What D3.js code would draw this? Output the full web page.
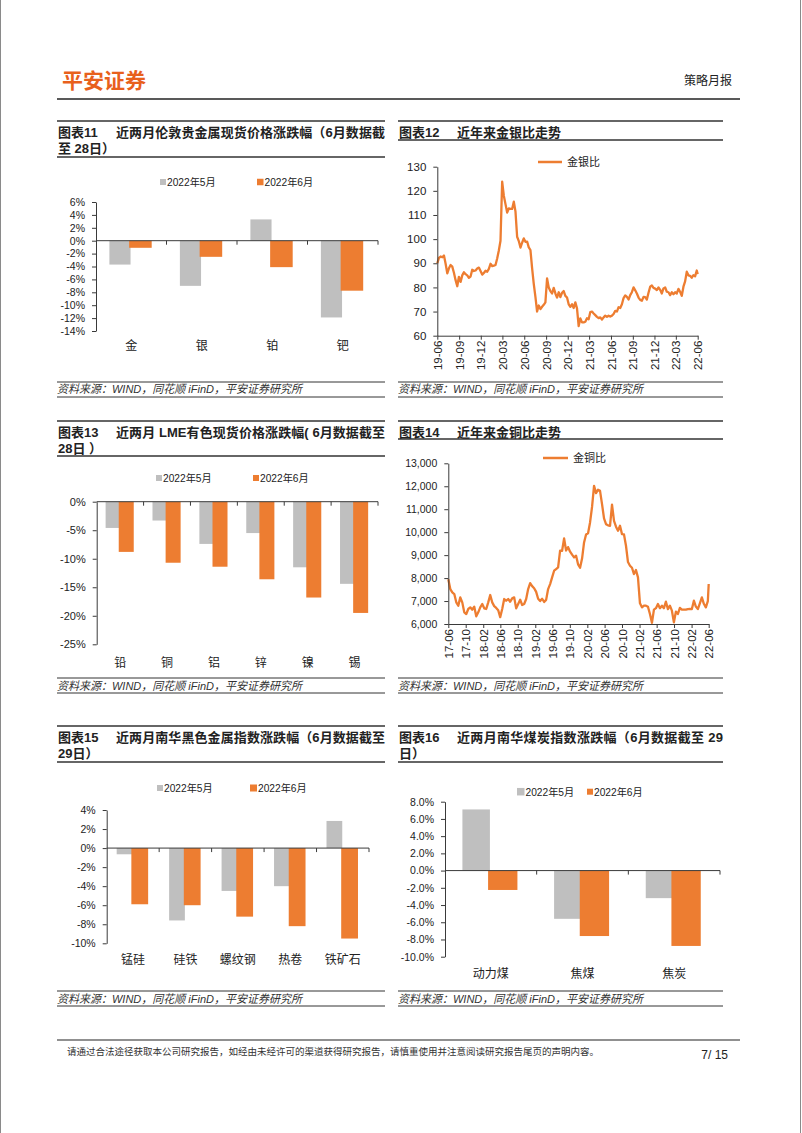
<!DOCTYPE html>
<html><head><meta charset="utf-8">
<script src="https://cdn.jsdelivr.net/npm/d3@7"></script>
<style>body{margin:0;background:#fff}svg{display:block}</style>
</head><body>
<svg id="c" width="802" height="1133"></svg>
<script>
// ---------------- DATA ----------------
const seriesNames = ["2022年5月", "2022年6月"];

const preciousCats = ["金", "银", "铂", "钯"];
const preciousMay = [-3.7, -7.0, 3.3, -11.9];
const preciousJun = [-1.1, -2.5, -4.1, -7.75];
const preciousTicks = [6, 4, 2, 0, -2, -4, -6, -8, -10, -12, -14];

const lmeCats = ["铅", "铜", "铝", "锌", "镍", "锡"];
const lmeMay = [-4.6, -3.3, -7.4, -5.5, -11.5, -14.4];
const lmeJun = [-8.8, -10.7, -11.4, -13.6, -16.8, -19.5];
const lmeTicks = [0, -5, -10, -15, -20, -25];

const ferrousCats = ["锰硅", "硅铁", "螺纹钢", "热卷", "铁矿石"];
const ferrousMay = [-0.65, -7.6, -4.5, -4.0, 2.85];
const ferrousJun = [-5.9, -6.0, -7.2, -8.2, -9.5];
const ferrousTicks = [4, 2, 0, -2, -4, -6, -8, -10];

const coalCats = ["动力煤", "焦煤", "焦炭"];
const coalMay = [7.1, -5.6, -3.2];
const coalJun = [-2.25, -7.6, -8.75];
const coalTicks = [8, 6, 4, 2, 0, -2, -4, -6, -8, -10];

const goldSilverDates = ("2019-06-28 2019-07-05 2019-07-12 2019-07-19 2019-07-26 2019-08-02 2019-08-09 2019-08-16 2019-08-23 2019-08-30 2019-09-06 2019-09-13 2019-09-20 2019-09-27 2019-10-04 2019-10-11 2019-10-18 2019-10-25 2019-11-01 2019-11-08 2019-11-15 2019-11-22 2019-11-29 2019-12-06 2019-12-13 2019-12-20 2019-12-27 " +
 "2020-01-03 2020-01-10 2020-01-17 2020-01-24 2020-01-31 2020-02-07 2020-02-14 2020-02-21 2020-02-28 2020-03-06 2020-03-13 2020-03-20 2020-03-27 2020-04-03 2020-04-10 2020-04-17 2020-04-24 2020-05-01 2020-05-08 2020-05-15 2020-05-22 2020-05-29 2020-06-05 2020-06-12 2020-06-19 2020-06-26 2020-07-03 2020-07-10 2020-07-17 2020-07-24 2020-07-31 2020-08-07 2020-08-14 2020-08-21 2020-08-28 2020-09-04 2020-09-11 2020-09-18 2020-09-25 2020-10-02 2020-10-09 2020-10-16 2020-10-23 2020-10-30 2020-11-06 2020-11-13 2020-11-20 2020-11-27 2020-12-04 2020-12-11 2020-12-18 2020-12-25 " +
 "2021-01-01 2021-01-08 2021-01-15 2021-01-22 2021-01-29 2021-02-05 2021-02-12 2021-02-19 2021-02-26 2021-03-05 2021-03-12 2021-03-19 2021-03-26 2021-04-02 2021-04-09 2021-04-16 2021-04-23 2021-04-30 2021-05-07 2021-05-14 2021-05-21 2021-05-28 2021-06-04 2021-06-11 2021-06-18 2021-06-25 2021-07-02 2021-07-09 2021-07-16 2021-07-23 2021-07-30 2021-08-06 2021-08-13 2021-08-20 2021-08-27 2021-09-03 2021-09-10 2021-09-17 2021-09-24 2021-10-01 2021-10-08 2021-10-15 2021-10-22 2021-10-29 2021-11-05 2021-11-12 2021-11-19 2021-11-26 2021-12-03 2021-12-10 2021-12-17 2021-12-24 2021-12-31 " +
 "2022-01-07 2022-01-14 2022-01-21 2022-01-28 2022-02-04 2022-02-11 2022-02-18 2022-02-25 2022-03-04 2022-03-11 2022-03-18 2022-03-25 2022-04-01 2022-04-08 2022-04-15 2022-04-22 2022-04-29 2022-05-06 2022-05-13 2022-05-20 2022-05-27 2022-06-03 2022-06-10 2022-06-17 2022-06-24 2022-06-28").split(" ");
const goldSilverValues = [
 90, 92.2, 92.8, 92.5, 93.2, 89.8, 85.8, 87.9, 89.3, 88.6, 86.1, 83, 80.5, 84.4, 82.3, 85, 86.3, 85.5, 85, 84, 84.5, 87.3, 86.8, 87, 87.8, 88.2, 86.8,
 85.3, 86, 86.9, 86.5, 87.7, 89.8, 88.8, 89, 89.3, 92, 95.3, 99.3, 123.8, 118, 114.5, 111, 112.7, 112.5, 112.5, 115.5, 111.5, 101, 99.2, 96.5, 98.5, 100.3, 98.9, 99, 96.6, 95.5, 88, 81.5, 76.1, 70, 72.5, 71, 72, 72.8, 73.8, 83.7, 80, 78.5, 77.5, 79.8, 77.5, 75.8, 78, 76, 77.8, 78.5, 76.5, 75.8,
 73, 72, 73, 71.5, 73.8, 71.3, 64, 67.2, 65.5, 65.5, 65.8, 67.2, 66.8, 69.8, 70, 69.2, 68.5, 67.8, 67.3, 67.6, 66.7, 67.6, 68.3, 67.8, 68.3, 67.9, 68.3, 69, 70.3, 70, 71.8, 71.5, 73, 75.6, 76.7, 76.1, 75, 76.8, 78, 80, 78.8, 77.5, 75.8, 74.8, 74.5, 76.1, 76, 75, 77.8, 80.3, 80.8, 79.8, 79.5,
 78.9, 80, 79, 77.5, 79.6, 80, 78.2, 78, 76.8, 78, 77.2, 78, 77.5, 79.4, 78.2, 76.5, 80.3, 82.5, 86.5, 85, 84.8, 84, 85.1, 84.6, 87, 85.5
];
const goldSilverTicks = ["2019-06-28", "2019-09-28", "2019-12-28", "2020-03-28", "2020-06-28", "2020-09-28", "2020-12-28", "2021-03-28", "2021-06-28", "2021-09-28", "2021-12-28", "2022-03-28", "2022-06-28"];
const goldSilverYTicks = [60, 70, 80, 90, 100, 110, 120, 130];

const goldCopperDates = ("2017-06-28 2017-07-12 2017-07-26 2017-08-09 2017-08-23 2017-09-06 2017-09-20 2017-10-04 2017-10-18 2017-11-01 2017-11-15 2017-11-29 2017-12-13 2017-12-27 " +
 "2018-01-10 2018-01-24 2018-02-07 2018-02-21 2018-03-07 2018-03-21 2018-04-04 2018-04-18 2018-05-02 2018-05-16 2018-05-30 2018-06-13 2018-06-27 2018-07-11 2018-07-25 2018-08-08 2018-08-22 2018-09-05 2018-09-19 2018-10-03 2018-10-17 2018-10-31 2018-11-14 2018-11-28 2018-12-12 2018-12-26 " +
 "2019-01-09 2019-01-23 2019-02-06 2019-02-20 2019-03-06 2019-03-20 2019-04-03 2019-04-17 2019-05-01 2019-05-15 2019-05-29 2019-06-12 2019-06-26 2019-07-10 2019-07-24 2019-08-07 2019-08-21 2019-09-04 2019-09-18 2019-10-02 2019-10-16 2019-10-30 2019-11-13 2019-11-27 2019-12-11 2019-12-25 " +
 "2020-01-08 2020-01-22 2020-02-05 2020-02-19 2020-03-04 2020-03-18 2020-04-01 2020-04-15 2020-04-29 2020-05-13 2020-05-27 2020-06-10 2020-06-24 2020-07-08 2020-07-22 2020-08-05 2020-08-19 2020-09-02 2020-09-16 2020-09-30 2020-10-14 2020-10-28 2020-11-11 2020-11-25 2020-12-09 2020-12-23 " +
 "2021-01-06 2021-01-20 2021-02-03 2021-02-17 2021-03-03 2021-03-17 2021-03-31 2021-04-14 2021-04-28 2021-05-12 2021-05-26 2021-06-09 2021-06-23 2021-07-07 2021-07-21 2021-08-04 2021-08-18 2021-09-01 2021-09-15 2021-09-29 2021-10-13 2021-10-27 2021-11-10 2021-11-24 2021-12-08 2021-12-22 " +
 "2022-01-05 2022-01-19 2022-02-02 2022-02-16 2022-03-02 2022-03-16 2022-03-30 2022-04-13 2022-04-27 2022-05-11 2022-05-25 2022-06-08 2022-06-22 2022-06-28").split(" ");
const goldCopperValues = [
 7950, 7522, 7378, 7305, 6943, 6798, 7160, 6943, 6508, 6435, 6653, 6725, 6624, 6754,
 6334, 6508, 6725, 6870, 6682, 6653, 6943, 7262, 6943, 6780, 6700, 6600, 6300, 6653, 7088, 7015, 7088, 6972, 7117, 7160, 6682, 6870, 7059, 6827, 6870, 7088,
 7522, 7780, 7650, 7560, 7400, 7100, 7000, 7100, 6960, 7050, 7522, 7740, 8030, 8320, 8393, 8465, 9200, 9190, 9727, 9200, 9350, 9150, 9020, 8900, 8973, 8600,
 8450, 8850, 9553, 9900, 9950, 10423, 11100, 12018, 11700, 11850, 11800, 11220, 10600, 10350, 10300, 10278, 11200, 10495, 10240, 10060, 10280, 9915, 9900, 9408, 8700, 8538,
 8450, 8175, 8350, 8030, 6900, 6725, 6800, 6798, 6750, 6435, 6050, 6624, 6690, 6870, 6690, 6798, 6690, 6972, 6650, 6798, 6580, 6073, 6540, 6435, 6700, 6624,
 6630, 6624, 6650, 6653, 6650, 7015, 6760, 6653, 6900, 7160, 6880, 6725, 7000, 7740
];
const goldCopperTicks = ["2017-06-28", "2017-10-28", "2018-02-28", "2018-06-28", "2018-10-28", "2019-02-28", "2019-06-28", "2019-10-28", "2020-02-28", "2020-06-28", "2020-10-28", "2021-02-28", "2021-06-28", "2021-10-28", "2022-02-28", "2022-06-28"];
const goldCopperYTicks = [6000, 7000, 8000, 9000, 10000, 11000, 12000, 13000];

// ---------------- STYLE ----------------
const LAT = "'Liberation Sans', Arial, 'Noto Sans CJK SC', sans-serif";
const CJK = "'Noto Sans CJK SC', 'Liberation Sans', sans-serif";
const GRAY = "#BFBFBF", ORANGE = "#ED7D31", AXIS = "#3a3a3a", INK = "#222";
const parseDate = d3.timeParse("%Y-%m-%d");
const svg = d3.select("#c");

// page frame
svg.append("rect").attr("x", 0.5).attr("y", -2).attr("width", 800).attr("height", 1140)
  .attr("fill", "none").attr("stroke", "#8a8a8a").attr("stroke-width", 1);

// header
svg.append("text").attr("x", 62).attr("y", 87.5).text("平安证券")
  .attr("font-family", CJK).attr("font-weight", 700).attr("font-size", 21).attr("fill", "#E8601C");
svg.append("text").attr("x", 732).attr("y", 85).attr("text-anchor", "end").text("策略月报")
  .attr("font-family", CJK).attr("font-size", 12).attr("fill", INK);
svg.append("line").attr("x1", 57).attr("x2", 740).attr("y1", 99).attr("y2", 99)
  .attr("stroke", INK).attr("stroke-width", 1.5);

// footer
svg.append("line").attr("x1", 57).attr("x2", 740).attr("y1", 1040).attr("y2", 1040)
  .attr("stroke", INK).attr("stroke-width", 1.2);
svg.append("text").attr("x", 67).attr("y", 1054.5)
  .text("请通过合法途径获取本公司研究报告，如经由未经许可的渠道获得研究报告，请慎重使用并注意阅读研究报告尾页的声明内容。")
  .attr("font-family", CJK).attr("font-size", 9.5).attr("fill", "#333");
svg.append("text").attr("x", 728).attr("y", 1058.5).attr("text-anchor", "end").text("7/ 15")
  .attr("font-family", LAT).attr("font-size", 12).attr("fill", INK);

// ---------------- HELPERS ----------------
function drawTitle(x0, x1, yTop, label, line1, line2, yBottom) {
  svg.append("line").attr("x1", x0).attr("x2", x1).attr("y1", yTop).attr("y2", yTop)
    .attr("stroke", "#333").attr("stroke-width", 1.5);
  const t = svg.append("g").attr("font-family", LAT).attr("font-weight", 700)
    .attr("font-size", 13).attr("fill", INK);
  t.append("text").attr("x", x0 + 1).attr("y", yTop + 15.5).text(label);
  const l1 = t.append("text").attr("x", x0 + 59).attr("y", yTop + 15.5).text(line1);
  if (line2) {
    l1.attr("textLength", x1 - x0 - 59).attr("lengthAdjust", "spacing");
    t.append("text").attr("x", x0 + 1).attr("y", yTop + 31.5).text(line2);
  }
  svg.append("line").attr("x1", x0).attr("x2", x1).attr("y1", yBottom).attr("y2", yBottom)
    .attr("stroke", "#333").attr("stroke-width", 1.3);
}

function drawSource(x0, x1, yA, yText, yB) {
  svg.append("line").attr("x1", x0).attr("x2", x1).attr("y1", yA).attr("y2", yA)
    .attr("stroke", "#333").attr("stroke-width", 1);
  svg.append("text").attr("x", x0).attr("y", yText + 4)
    .text("资料来源：WIND，同花顺 iFinD，平安证券研究所")
    .attr("font-family", "'Liberation Sans', 'Noto Sans CJK SC', sans-serif")
    .attr("font-style", "italic").attr("font-size", 11.5).attr("fill", "#333")
    .attr("textLength", 245).attr("lengthAdjust", "spacingAndGlyphs");
  svg.append("line").attr("x1", x0).attr("x2", x1).attr("y1", yB).attr("y2", yB)
    .attr("stroke", "#333").attr("stroke-width", 1);
}

function styleAxis(g, fs) {
  g.select(".domain").attr("stroke", AXIS);
  g.selectAll(".tick line").attr("stroke", AXIS);
  g.selectAll(".tick text").attr("fill", INK).attr("font-family", LAT).attr("font-size", fs);
}

function drawBars(c) {
  const y = d3.scaleLinear().domain([c.yMin, c.yMax]).range([c.yBot, c.yTop]);
  const x = d3.scaleBand().domain(c.cats).range([c.x0, c.x1]).padding(0);
  const bw = x.bandwidth();
  const g = svg.append("g");
  const y0 = y(0);
  const series = [
    { vals: c.may, color: GRAY, a: 0.19, w: 0.30 },
    { vals: c.jun, color: ORANGE, a: 0.47, w: 0.32 }
  ];
  series.forEach(s => {
    g.append("g").selectAll("rect").data(c.cats).join("rect")
      .attr("x", (d) => x(d) + s.a * bw)
      .attr("width", s.w * bw)
      .attr("y", (d, i) => Math.min(y(s.vals[i]), y0))
      .attr("height", (d, i) => Math.abs(y(s.vals[i]) - y0))
      .attr("fill", s.color);
  });
  const ya = g.append("g").attr("transform", `translate(${c.x0},0)`)
    .call(d3.axisLeft(y).tickValues(c.ticks).tickFormat(c.fmt).tickSize(4).tickSizeOuter(0).tickPadding(7));
  styleAxis(ya, c.fs);
  g.append("line").attr("x1", c.x0).attr("x2", c.x1).attr("y1", y0).attr("y2", y0)
    .attr("stroke", AXIS).attr("stroke-width", 1);
  g.append("g").selectAll("line").data(c.cats).join("line")
    .attr("x1", d => x(d) + bw).attr("x2", d => x(d) + bw)
    .attr("y1", y0).attr("y2", y0 + 4).attr("stroke", AXIS);
  g.append("g").selectAll("text").data(c.cats).join("text")
    .attr("x", d => x(d) + bw / 2).attr("y", c.labelY + 4.5)
    .attr("text-anchor", "middle").text(d => d)
    .attr("font-family", CJK).attr("font-size", 12).attr("fill", INK);
  const L = c.legend;
  [[L.gx, GRAY, L.gs], [L.ox, ORANGE, L.os]].forEach((e, i) => {
    g.append("rect").attr("x", e[0]).attr("y", L.y - e[2] / 2).attr("width", e[2]).attr("height", e[2]).attr("fill", e[1]);
    g.append("text").attr("x", e[0] + e[2] + 1).attr("y", L.y + 3.8).text(seriesNames[i])
      .attr("font-family", LAT).attr("font-size", 10.2).attr("fill", INK);
  });
}

function drawLine(c) {
  const dates = c.dates.map(parseDate);
  const ticks = c.xTicks.map(parseDate);
  const x = d3.scaleTime().domain([ticks[0], ticks[ticks.length - 1]]).range([c.x0, c.x1]);
  const y = d3.scaleLinear().domain([c.yMin, c.yMax]).range([c.yBot, c.yTop]);
  const g = svg.append("g");
  const n = Math.min(dates.length, c.values.length);
  const pts = d3.range(n).map(i => [dates[i], c.values[i]]);
  g.append("path").datum(pts)
    .attr("d", d3.line().x(d => x(d[0])).y(d => y(d[1])))
    .attr("fill", "none").attr("stroke", ORANGE).attr("stroke-width", 2.3)
    .attr("stroke-linejoin", "round");
  const ya = g.append("g").attr("transform", `translate(${c.x0},0)`)
    .call(d3.axisLeft(y).tickValues(c.yTicks).tickFormat(c.fmt).tickSize(4).tickSizeOuter(0).tickPadding(7));
  styleAxis(ya, c.yfs);
  const xa = g.append("g").attr("transform", `translate(0,${c.yBot})`)
    .call(d3.axisBottom(x).tickValues(ticks).tickFormat(d3.timeFormat("%y-%m")).tickSize(4).tickSizeOuter(0));
  styleAxis(xa, c.xfs);
  xa.selectAll(".tick text").attr("transform", "rotate(-90)").attr("text-anchor", "end")
    .attr("x", -5).attr("y", 0).attr("dy", "0.35em");
  g.append("line").attr("x1", c.legend.x1).attr("x2", c.legend.x2)
    .attr("y1", c.legend.y).attr("y2", c.legend.y).attr("stroke", ORANGE).attr("stroke-width", 2.5);
  g.append("text").attr("x", c.legend.x2 + 5).attr("y", c.legend.y + 4).text(c.legend.text)
    .attr("font-family", CJK).attr("font-size", 11).attr("fill", INK);
}

const pct0 = d => d + "%";
const pct1 = d => d.toFixed(1) + "%";

// ---------------- CHART 11 ----------------
drawTitle(57, 385, 121, "图表11", "近两月伦敦贵金属现货价格涨跌幅（6月数据截", "至 28日）", 157);
drawBars({ cats: preciousCats, may: preciousMay, jun: preciousJun, ticks: preciousTicks, fmt: pct0,
  yMin: -14, yMax: 6, yTop: 202, yBot: 331, x0: 96, x1: 378, labelY: 345.5, fs: 10.5,
  legend: { gx: 160, gs: 6, ox: 257, os: 6.5, y: 182 } });
drawSource(57, 385, 382, 389, 397);

// ---------------- CHART 12 ----------------
drawTitle(398, 723, 121, "图表12", "近年来金银比走势", null, 140);
drawLine({ dates: goldSilverDates, values: goldSilverValues, xTicks: goldSilverTicks,
  yTicks: goldSilverYTicks, fmt: d3.format("d"), yMin: 60, yMax: 130, yTop: 166.7, yBot: 335.7,
  x0: 437.3, x1: 697.7, yfs: 11.5, xfs: 11.5,
  legend: { x1: 538, x2: 562, y: 162, text: "金银比" } });
drawSource(398, 723, 382, 389, 397);

// ---------------- CHART 13 ----------------
drawTitle(57, 385, 421, "图表13", "近两月 LME有色现货价格涨跌幅( 6月数据截至", "28日 ）", 456);
drawBars({ cats: lmeCats, may: lmeMay, jun: lmeJun, ticks: lmeTicks, fmt: pct0,
  yMin: -25, yMax: 0, yTop: 501.7, yBot: 644.3, x0: 96.7, x1: 378, labelY: 662, fs: 11,
  legend: { gx: 156, gs: 6, ox: 253, os: 6, y: 478 } });
drawSource(57, 385, 678, 685.5, 693);

// ---------------- CHART 14 ----------------
drawTitle(398, 723, 421, "图表14", "近年来金铜比走势", null, 439);
drawLine({ dates: goldCopperDates, values: goldCopperValues, xTicks: goldCopperTicks,
  yTicks: goldCopperYTicks, fmt: d3.format(","), yMin: 6000, yMax: 13000, yTop: 463.3, yBot: 624,
  x0: 448.3, x1: 708.7, yfs: 10.5, xfs: 11.5,
  legend: { x1: 543, x2: 568, y: 458, text: "金铜比" } });
drawSource(398, 723, 678, 685.5, 693);

// ---------------- CHART 15 ----------------
drawTitle(57, 385, 726, "图表15", "近两月南华黑色金属指数涨跌幅（6月数据截至", "29日）", 762);
drawBars({ cats: ferrousCats, may: ferrousMay, jun: ferrousJun, ticks: ferrousTicks, fmt: pct0,
  yMin: -10, yMax: 4, yTop: 810, yBot: 943.3, x0: 106.7, x1: 369, labelY: 959, fs: 10.5,
  legend: { gx: 157, gs: 6, ox: 250, os: 7, y: 788 } });
drawSource(57, 385, 991, 998.5, 1006);

// ---------------- CHART 16 ----------------
drawTitle(398, 723, 726, "图表16", "近两月南华煤炭指数涨跌幅（6月数据截至 29", "日）", 762);
drawBars({ cats: coalCats, may: coalMay, jun: coalJun, ticks: coalTicks, fmt: pct1,
  yMin: -10, yMax: 8, yTop: 801.7, yBot: 956.7, x0: 445, x1: 720, labelY: 973, fs: 10.5,
  legend: { gx: 517, gs: 7.5, ox: 587, os: 6, y: 791.7 } });
drawSource(398, 723, 991, 998.5, 1006);
</script>
</body></html>
